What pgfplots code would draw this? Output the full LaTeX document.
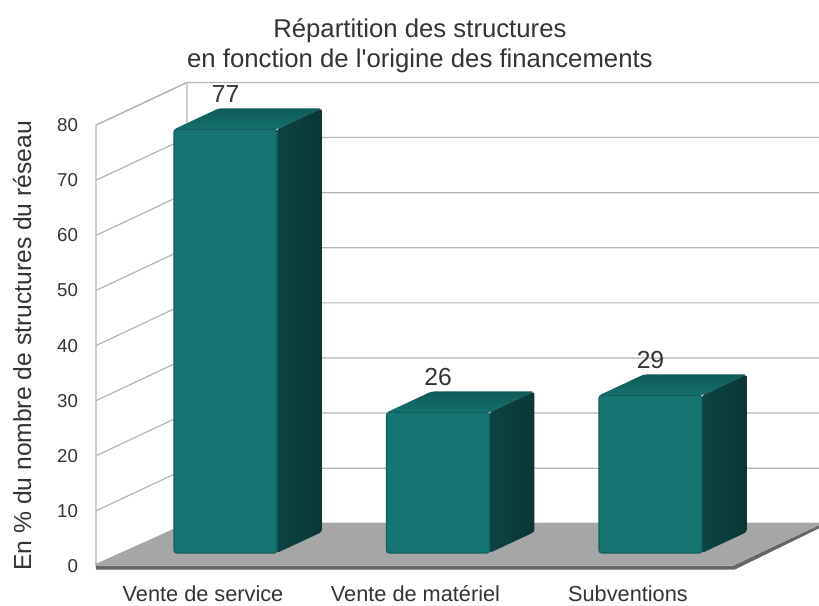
\documentclass[border=0pt]{standalone}
\usepackage{pgfplots}
\usepackage{fontspec}
\setmainfont{Liberation Sans}
\newfontfamily\titlefont{Liberation Sans}
\pgfplotsset{compat=1.18}
\definecolor{frontc}{HTML}{167573}
\definecolor{edgec}{HTML}{0F5E5C}
\definecolor{topA}{HTML}{0F5A58}
\definecolor{topB}{HTML}{14706E}
\definecolor{sideA}{HTML}{0C4443}
\definecolor{sideB}{HTML}{0A3635}
\definecolor{gridc}{HTML}{B4B4B4}
\definecolor{floorc}{HTML}{A6A6A6}
\definecolor{txt}{HTML}{333333}
% wall depth in data units
\def\wdx{0.428}\def\wdy{7.75}
% bar geometry in data units
\def\xlo{-0.1365}\def\xhi{0.348}\def\bdx{0.2118}\def\bdy{3.81}\def\bbase{2.36}
\newcommand\gridln[1]{%
  \pgfmathsetmacro\ga{#1+\wdy}%
  \addplot[gridc,line width=0.9pt] coordinates {(-0.5035,#1) (-0.5035+\wdx,\ga) (3.0,\ga)};%
}
\newcommand\barfaces[2]{%
  \pgfmathsetmacro\xa{#1+\xlo}\pgfmathsetmacro\xb{#1+\xhi}%
  \pgfmathsetmacro\xc{#1+\xlo+\bdx}\pgfmathsetmacro\xd{#1+\xhi+\bdx}%
  \pgfmathsetmacro\ya{#2+\bbase}\pgfmathsetmacro\yb{#2+\bbase+\bdy}%
  \pgfmathsetmacro\yc{\bbase+\bdy}%
  \addplot[draw=none,top color=topA,bottom color=topB,rounded corners=2pt]
    coordinates {(\xa,\ya) (\xc,\yb) (\xd,\yb) (\xb,\ya)} -- cycle;
  \addplot[draw=none,left color=sideA,right color=sideB,rounded corners=2pt]
    coordinates {(\xb,\ya) (\xd,\yb) (\xd,\yc) (\xb,\bbase)} -- cycle;
}
\begin{document}
\begin{tikzpicture}
\path[use as bounding box] (0,0) rectangle (614.25pt,454.5pt);
\begin{axis}[
  at={(72pt,25.87pt)},anchor=south west,
  scale only axis,
  width=542.25pt,height=367.8pt,
  xmin=-0.5035,xmax=2.899,ymin=-1,ymax=88,
  clip=false,
  axis line style={draw=none},
  tick style={draw=none},
  xtick={0,1,2},
  xticklabels={Vente de service,Vente de matériel,Subventions},
  ytick={0,10,...,80},
  x tick label style={font=\fontsize{16.3}{19}\selectfont,text=txt,inner sep=0pt,yshift=-12.4pt,text height=10pt,text depth=1pt},
  y tick label style={font=\fontsize{14}{17}\selectfont,text=txt,xshift=-10pt},
  /pgf/number format/assume math mode=true,
  title={Répartition des structures\\en fonction de l'origine des financements},
  title style={font=\titlefont\fontsize{19.3}{22.5}\selectfont,text=txt,align=center,at={(axis description cs:0.448,1.056)},anchor=center},
  ylabel={En \% du nombre de structures du réseau},
  ylabel style={font=\fontsize{18.5}{22}\selectfont,text=txt,at={(axis description cs:-0.102,0.46)},anchor=center},
]
% walls
\addplot[gridc,line width=0.9pt] coordinates {(-0.5035,0) (-0.5035,80) (-0.0755,87.75) (-0.0755,7.75)};
\gridln{0}\gridln{10}\gridln{20}\gridln{30}\gridln{40}\gridln{50}\gridln{60}\gridln{70}\gridln{80}
% floor
\addplot[draw=none,fill=black!60] coordinates {(-0.5035,0.05) (2.494,0.05) (2.92,7.8) (2.95,7.8) (2.503,-0.64) (-0.5035,-0.64)} -- cycle;
\addplot[draw=none,fill=floorc] coordinates {(-0.5035,0.4) (-0.0755,7.8) (2.92,7.8) (2.494,0.05) (-0.5035,0.05)} -- cycle;
% bars
\barfaces{0}{76.9}
\barfaces{1}{25.5}
\barfaces{2}{28.6}
\addplot[ybar,/pgf/bar width=77.25pt,/pgf/bar shift=16.9pt,yshift=9.75pt,
  fill=frontc,draw=edgec,line width=0.8pt,rounded corners=2pt,
  nodes near coords,
  nodes near coords style={/pgf/number format/fixed,/pgf/number format/precision=0},
  every node near coord/.append style={font=\fontsize{18.5}{21}\selectfont,text=txt,anchor=south,xshift=16.9pt,yshift=16pt}]
  coordinates {(0,76.9) (1,25.5) (2,28.6)};
\end{axis}
\end{tikzpicture}
\end{document}
